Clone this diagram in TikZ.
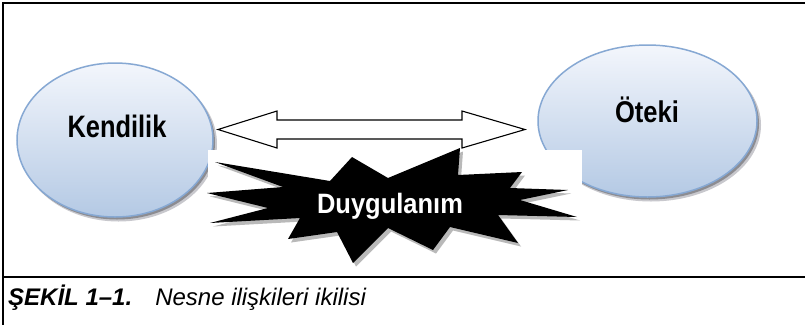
\documentclass[tikz,border=0pt]{standalone}
\usepackage{fontspec}
\setmainfont{Liberation Sans}
\usepackage{graphicx}
\usetikzlibrary{shapes.geometric}
\definecolor{blobtop}{RGB}{243,246,252}
\definecolor{blobbot}{RGB}{180,201,228}
\definecolor{blobline}{RGB}{134,168,211}
\definecolor{shadowdark}{RGB}{140,140,145}
\definecolor{shadowlight}{RGB}{200,200,205}
\definecolor{burstshadow}{RGB}{185,185,185}
\begin{document}
\begin{tikzpicture}[x=1pt,y=-1pt,
  blob/.style={ellipse, draw=blobline, line width=1.5pt, top color=blobtop, bottom color=blobbot, inner sep=0pt},
  blobshadowA/.style={ellipse, fill=shadowlight, inner sep=0pt},
  blobshadowB/.style={ellipse, fill=shadowdark, inner sep=0pt},
  lbl/.style={inner sep=0pt, text=black},
  frameline/.style={line width=2pt, black},
  blockarrow/.style={draw=black, line width=1.1pt, fill=white, line join=miter},
  burstfill/.style={fill=black},
  burstshade/.style={fill=burstshadow}]
\useasboundingbox (0,0) rectangle (805,325);
\fill[white] (0,0) rectangle (805,325);

% frame
\draw[frameline] (805,2.5) -- (3,2.5) -- (3,325);
\draw[frameline] (3,277) -- (805,277);

% ellipse shadows
\node[blobshadowA, minimum width=197, minimum height=155] at (118.5,144) {};
\node[blobshadowB, minimum width=196, minimum height=154] at (117,142.5) {};
\node[blobshadowA, minimum width=220, minimum height=153] at (651,125) {};
\node[blobshadowB, minimum width=219, minimum height=152] at (649.5,123.5) {};

% ellipses
\node[blob, minimum width=196, minimum height=154] (kend) at (115,140) {};
\node[blob, minimum width=219, minimum height=152] (oteki) at (647.5,121) {};

\node[lbl, anchor=base, font=\fontsize{31}{31}\selectfont\bfseries] (kendtxt) at (117,137.3) {\scalebox{0.82}[1]{Kendilik}};
\node[lbl, anchor=base, font=\fontsize{30}{30}\selectfont\bfseries] (otekitxt) at (647,122) {\scalebox{0.85}[1]{Öteki}};

% double block arrow
\draw[blockarrow] (218,129.5) -- (277,111) -- (277,120) -- (462,120) -- (462,111)
  -- (525,129.5) -- (462,148) -- (462,139) -- (277,139) -- (277,148) -- cycle;

% white area behind the burst
\fill[white] (208,150) rectangle (582,270);

% starburst
\def\burstpath{(215,162) -- (330,181) -- (352,157) -- (388,178) -- (460,148) -- (458,175)
  -- (522,172) -- (510,188) -- (568,190) -- (520,200) -- (577,217) -- (498,215)
  -- (518,243) -- (450,227) -- (433,250) -- (388,228) -- (353,263) -- (337,232)
  -- (288,239) -- (300,218) -- (210,223) -- (268,208) -- (207,193) -- (283,187) -- cycle}
\fill[burstshade, shift={(3,3.5)}] \burstpath;
\fill[burstfill] \burstpath;
\node[inner sep=0pt, anchor=base, text=white, font=\fontsize{28}{28}\selectfont\bfseries] (duyg) at (390,213.3) {\scalebox{0.91}[1]{Duygulanım}};

% caption
\node[inner sep=0pt, anchor=base west, font=\fontsize{24}{24}\selectfont] (cap) at (8,305)
  {\bfseries\itshape ŞEKİL 1–1.\hspace{23pt}\mdseries Nesne ilişkileri ikilisi};
\end{tikzpicture}
\end{document}
